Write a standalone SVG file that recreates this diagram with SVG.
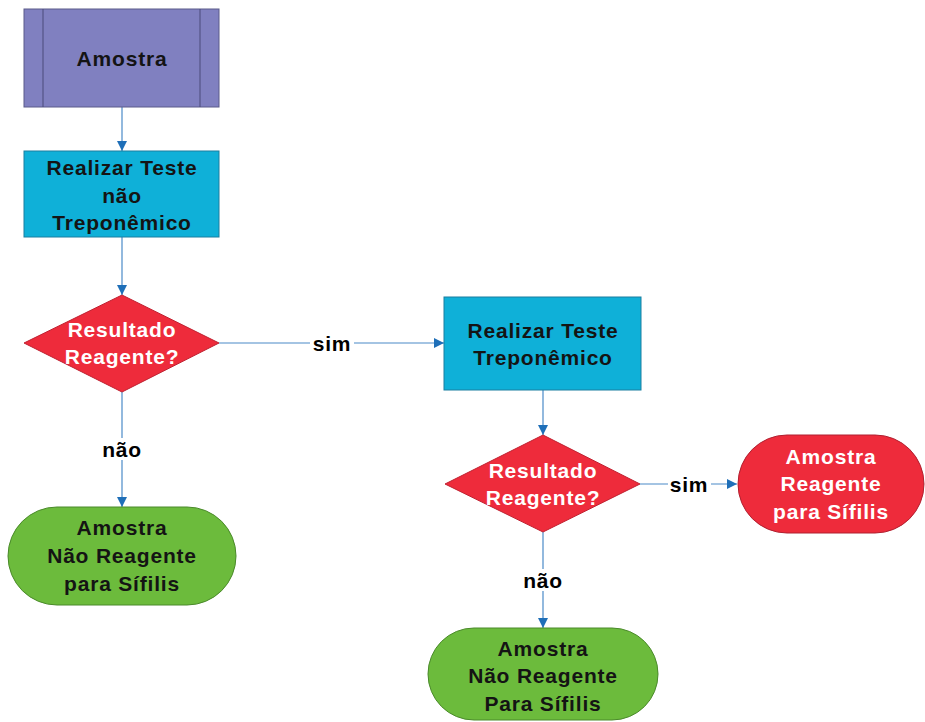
<svg xmlns="http://www.w3.org/2000/svg" width="925" height="722" viewBox="0 0 925 722">
<style>
text{font-family:"Liberation Sans",Arial,sans-serif;font-weight:bold;font-size:21px;letter-spacing:0.8px;text-anchor:middle;dominant-baseline:central}
.dark{fill:#141414}
.light{fill:#ffffff}
.conn{stroke:#4a8ac8;stroke-width:1.2;fill:none}
.lbl{fill:#000}
</style>
<defs>
<marker id="arr" viewBox="0 0 10 10" refX="10" refY="5" markerWidth="10" markerHeight="10" markerUnits="userSpaceOnUse" orient="auto">
<path d="M0,0 L10,5 L0,10 Z" fill="#1f6fb8"/>
</marker>
</defs>
<rect width="925" height="722" fill="#ffffff"/>
<g id="connectors">
<line class="conn" x1="122" y1="107" x2="122" y2="151" marker-end="url(#arr)"/>
<line class="conn" x1="122" y1="237" x2="122" y2="295" marker-end="url(#arr)"/>
<line class="conn" x1="219" y1="343" x2="444" y2="343" marker-end="url(#arr)"/>
<line class="conn" x1="122" y1="392" x2="122" y2="507" marker-end="url(#arr)"/>
<line class="conn" x1="543" y1="390" x2="543" y2="435" marker-end="url(#arr)"/>
<line class="conn" x1="640" y1="484" x2="737" y2="484" marker-end="url(#arr)"/>
<line class="conn" x1="543" y1="532" x2="543" y2="628" marker-end="url(#arr)"/>
<rect x="310" y="332" width="44" height="22" fill="#fff"/>
<text class="lbl" x="332" y="343">sim</text>
<rect x="101" y="438" width="42" height="22" fill="#fff"/>
<text class="lbl" x="122" y="449">não</text>
<rect x="668" y="473" width="43" height="22" fill="#fff"/>
<text class="lbl" x="689" y="484">sim</text>
<rect x="522" y="569" width="42" height="22" fill="#fff"/>
<text class="lbl" x="543" y="580">não</text>
</g>
<g id="amostra">
<rect x="24" y="9" width="195" height="98" fill="#8080c0" stroke="#5a5a8a" stroke-width="1"/>
<line x1="43" y1="9" x2="43" y2="107" stroke="#4a4a7a" stroke-width="1"/>
<line x1="200" y1="9" x2="200" y2="107" stroke="#4a4a7a" stroke-width="1"/>
<text class="dark" x="122" y="58">Amostra</text>
</g>
<g id="teste-nao-trep">
<rect x="24" y="151" width="195" height="86" fill="#0fb0d8" stroke="#1a7fa0" stroke-width="1"/>
<text class="dark" x="122" y="167">Realizar Teste</text>
<text class="dark" x="122" y="195">não</text>
<text class="dark" x="122" y="222">Treponêmico</text>
</g>
<g id="decisao1">
<polygon points="122,295 219,343 122,392 24,343" fill="#ee2b3b" stroke="#c02030" stroke-width="1"/>
<text class="light" x="122" y="329">Resultado</text>
<text class="light" x="122" y="356">Reagente?</text>
</g>
<g id="nao-reagente1">
<rect x="8" y="507" width="228" height="98" rx="49" ry="49" fill="#6cbb3c" stroke="#4a8a2a" stroke-width="1"/>
<text class="dark" x="122" y="527">Amostra</text>
<text class="dark" x="122" y="555">Não Reagente</text>
<text class="dark" x="122" y="583">para Sífilis</text>
</g>
<g id="teste-trep">
<rect x="444" y="297" width="197" height="93" fill="#0fb0d8" stroke="#1a7fa0" stroke-width="1"/>
<text class="dark" x="543" y="330">Realizar Teste</text>
<text class="dark" x="543" y="357">Treponêmico</text>
</g>
<g id="decisao2">
<polygon points="543,435 640,484 543,532 445,484" fill="#ee2b3b" stroke="#c02030" stroke-width="1"/>
<text class="light" x="543" y="470">Resultado</text>
<text class="light" x="543" y="497">Reagente?</text>
</g>
<g id="reagente">
<rect x="738" y="435" width="186" height="98" rx="49" ry="49" fill="#ee2b3b" stroke="#b02030" stroke-width="1"/>
<text class="light" x="831" y="456">Amostra</text>
<text class="light" x="831" y="483">Reagente</text>
<text class="light" x="831" y="511">para Sífilis</text>
</g>
<g id="nao-reagente2">
<rect x="428" y="628" width="230" height="92" rx="46" ry="46" fill="#6cbb3c" stroke="#4a8a2a" stroke-width="1"/>
<text class="dark" x="543" y="648">Amostra</text>
<text class="dark" x="543" y="675">Não Reagente</text>
<text class="dark" x="543" y="703">Para Sífilis</text>
</g>
</svg>
